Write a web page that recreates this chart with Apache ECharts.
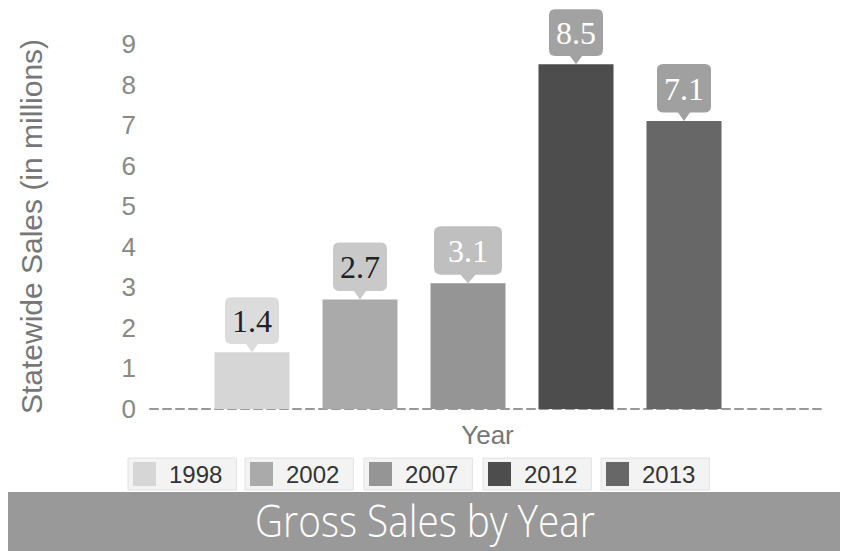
<!DOCTYPE html>
<html>
<head>
<meta charset="utf-8">
<script src="https://cdn.jsdelivr.net/npm/echarts@6/dist/echarts.min.js"></script>
<style>html,body{margin:0;padding:0;background:#fff;}#c{width:848px;height:551px;}</style>
</head>
<body>
<div id="c"></div>
<script>
// ---- data ----
const categories = ['1998', '2002', '2007', '2012', '2013'];
const values = [1.4, 2.7, 3.1, 8.5, 7.1];
const yMin = 0, yMax = 9, yInterval = 1;
const yAxisTitle = 'Statewide Sales (in millions)';
const xAxisTitle = 'Year';
const chartTitle = 'Gross Sales by Year';

// ---- styles ----
const barColors = ['#d6d6d6', '#aaaaaa', '#959595', '#4d4d4d', '#676767'];
const bubbleColors = ['#dcdcdc', '#c9c9c9', '#bfbfbf', '#a2a2a2', '#a0a0a0'];
const bubbleText = ['#222222', '#222222', '#ffffff', '#ffffff', '#ffffff'];
const bubbleSizes = [[54, 55], [54, 57], [68, 57], [54, 55], [54, 57]];
const legendLefts = [128, 245, 364, 483, 601];
const bubblePath = 'path://M6,0 H48 Q54,0 54,6 V39 Q54,45 48,45 H33 L27,53 L21,45 H6 Q0,45 0,39 V6 Q0,0 6,0 Z';

const chart = echarts.init(document.getElementById('c'), null, {renderer: 'svg'});

const series = categories.map((name, i) => ({
  type: 'bar',
  name: name,
  xAxisIndex: 0,
  yAxisIndex: 0,
  stack: 'all',
  barWidth: 75,
  data: categories.map((c, j) => j === i ? values[i] : '-'),
  itemStyle: {color: barColors[i]},
  emphasis: {disabled: true},
  markPoint: {
    symbol: bubblePath,
    symbolSize: bubbleSizes[i],
    symbolOffset: [0, '-50%'],
    itemStyle: {color: bubbleColors[i]},
    label: {
      show: true,
      position: 'inside',
      offset: [0, -4],
      formatter: '{c}',
      color: bubbleText[i],
      fontFamily: 'Liberation Serif',
      fontSize: 32
    },
    data: [{coord: [categories[i], values[i]], value: values[i]}]
  }
}));

const legends = categories.map((name, i) => ({
  data: [name],
  left: legendLefts[i],
  top: 458,
  orient: 'horizontal',
  icon: 'rect',
  itemWidth: 23,
  itemHeight: 24,
  padding: [4, 14, 4, 5],
  backgroundColor: '#f3f3f3',
  borderColor: '#e2e2e2',
  borderWidth: 1,
  selectedMode: false,
  textStyle: {color: '#333', fontSize: 24, fontFamily: 'Liberation Sans', padding: [0, 0, 0, 8]}
}));

chart.setOption({
  animation: false,
  backgroundColor: '#ffffff',
  grid: [
    {left: 198, right: 110, top: 44, bottom: 142},
    {left: 150, right: 23, top: 44, bottom: 142}
  ],
  xAxis: [
    {type: 'category', gridIndex: 0, data: categories, show: false},
    {type: 'value', gridIndex: 1, min: 0, max: 1,
     axisLine: {show: true, lineStyle: {color: '#999', width: 2, type: [8, 5]}},
     axisTick: {show: false}, axisLabel: {show: false}, splitLine: {show: false},
     name: xAxisTitle, nameLocation: 'middle', nameGap: 13,
     nameTextStyle: {color: '#777', fontSize: 26, fontFamily: 'Liberation Sans'}}
  ],
  yAxis: [
    {type: 'value', gridIndex: 0, min: yMin, max: yMax, interval: yInterval, show: false},
    {type: 'value', gridIndex: 1, min: yMin, max: yMax, interval: yInterval,
     axisLine: {show: false}, axisTick: {show: false}, splitLine: {show: false},
     axisLabel: {color: '#888', fontSize: 26, fontFamily: 'Liberation Sans', margin: 14},
     name: yAxisTitle, nameLocation: 'middle', nameGap: 104,
     nameTextStyle: {color: '#777', fontSize: 30, fontFamily: 'Liberation Sans'}}
  ],
  legend: legends,
  series: series,
  graphic: [
    {type: 'rect', left: 8, top: 492, shape: {width: 832, height: 59}, style: {fill: '#999999'}, z: 10},
    {type: 'text', x: 425, y: 520, scaleX: 0.88, z: 11,
     style: {text: chartTitle, fill: '#ffffff', font: '300 44px "Open Sans"', textAlign: 'center', textVerticalAlign: 'middle'}}
  ]
});
</script>
</body>
</html>
